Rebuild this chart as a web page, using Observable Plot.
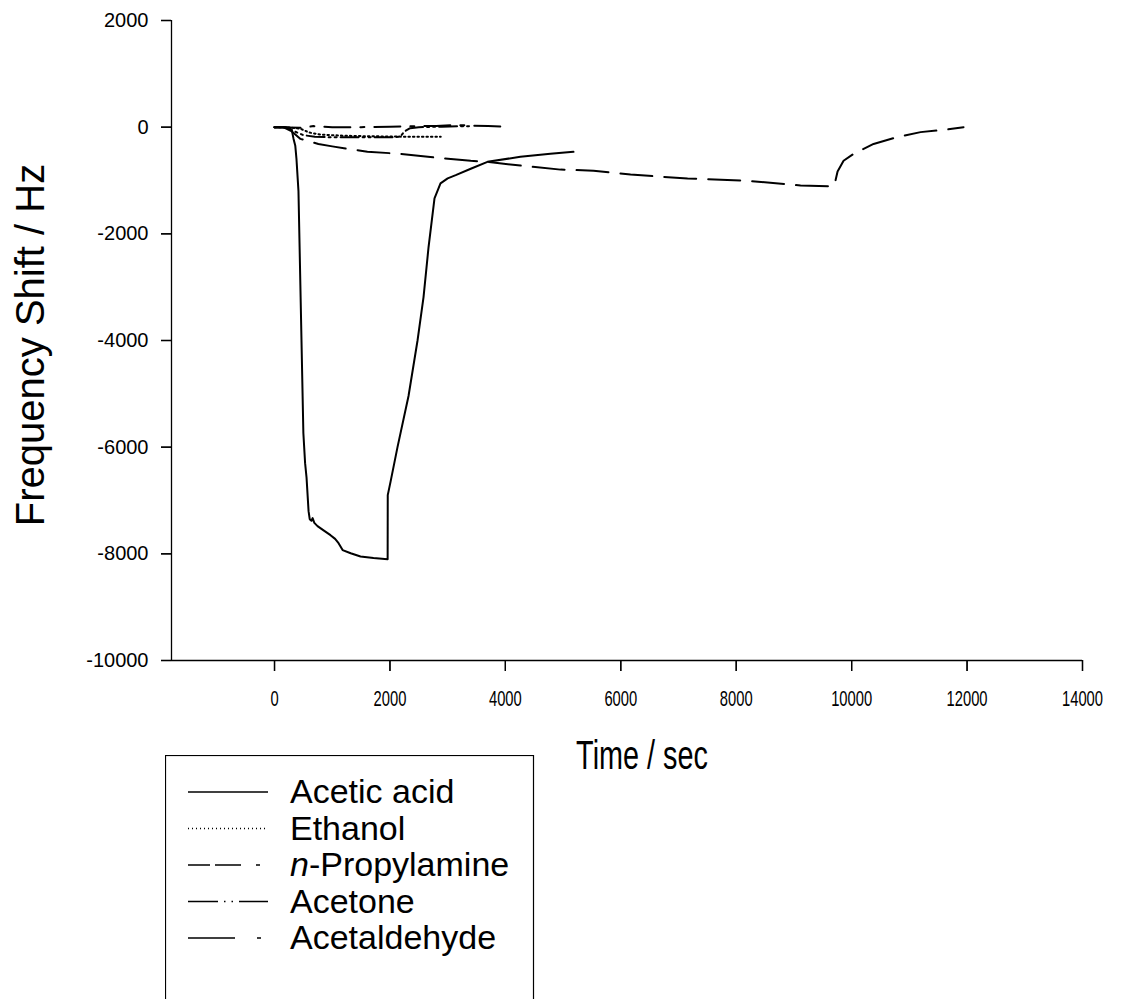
<!DOCTYPE html>
<html><head><meta charset="utf-8">
<script src="https://cdn.jsdelivr.net/npm/d3@7"></script>
<script src="https://cdn.jsdelivr.net/npm/@observablehq/plot@0.6"></script>
<style>
html,body{margin:0;padding:0;background:#fff;overflow:hidden;}
#wrap{position:relative;width:1123px;height:999px;font-family:"Liberation Sans",Arial,sans-serif;color:#000;}
#chart{position:absolute;left:0;top:0;}
.ytitle{position:absolute;left:30px;top:345px;transform:translate(-50%,-50%) rotate(-90deg);font-size:40px;white-space:nowrap;line-height:1;}
.xtitle{position:absolute;left:642px;top:755px;transform:translate(-50%,-50%) scale(0.72,1);font-size:40px;white-space:nowrap;line-height:1;}
#legend{position:absolute;left:165px;top:755px;}
</style></head><body>
<div id="wrap">
  <div id="chart"></div>
  <div class="ytitle">Frequency Shift / Hz</div>
  <div class="xtitle">Time / sec</div>
  <svg id="legend" width="370" height="270"></svg>
</div>
<script>
// ---- axis domains and tick values ----
const xDomain = [-1785, 14000];
const yDomain = [-10000, 2000];
const xTicks = [0, 2000, 4000, 6000, 8000, 10000, 12000, 14000];
const yTicks = [-10000, -8000, -6000, -4000, -2000, 0, 2000];

// ---- series: Acetic acid ----
const aceticTime  = [0, 150, 250, 300, 330, 360, 380, 415, 500, 530, 555, 590, 610, 640, 660, 690, 745, 850, 970, 1050, 1110, 1180, 1320, 1490, 1715, 1960, 1962, 2010, 2131, 2322, 2478, 2582, 2668, 2772, 2876, 3000, 3140, 3400, 3690, 4260, 4780, 5180];
const aceticShift = [0, 0, -10, -60, -220, -350, -590, -1200, -5740, -6300, -6570, -7200, -7350, -7380, -7330, -7420, -7480, -7560, -7650, -7720, -7800, -7930, -7990, -8050, -8080, -8100, -6900, -6650, -6000, -5040, -4000, -3185, -2260, -1333, -1055, -960, -900, -780, -650, -555, -500, -463];

// ---- series: Ethanol ----
const ethanolTime  = [0, 200, 450, 600, 800, 1200, 1600, 2000, 2400, 2880];
const ethanolShift = [0, 0, -30, -100, -140, -160, -170, -175, -180, -180];

// ---- series: n-Propylamine ----
const propTime  = [0, 150, 300, 450, 760, 1000, 1230, 1610, 2180, 2700, 3400, 3690, 4260, 4956, 5528, 6169, 7157, 8127, 9115, 9669, 9700, 9756, 9860, 10033, 10380, 10795, 11194, 11600, 11939];
const propShift = [0, 0, -80, -220, -315, -360, -400, -460, -500, -560, -630, -650, -720, -796, -815, -889, -963, -1000, -1093, -1111, -1090, -833, -630, -500, -315, -185, -93, -50, 0];

// ---- series: Acetone ----
const acetoneTime  = [0, 200, 350, 500, 700, 1000, 1500, 2000, 2180, 2250, 2350, 2500, 2900, 3400];
const acetoneShift = [0, 0, -80, -150, -180, -190, -190, -190, -180, -80, -20, 0, 10, 20];

// ---- series: Acetaldehyde ----
const acetaldTime  = [0, 500, 675, 1000, 1500, 2000, 2500, 2800, 3100, 3400, 3700, 3950];
const acetaldShift = [0, -10, 20, 0, 0, 10, 20, 20, 40, 30, 20, 10];

const seriesNames = ["Acetic acid", "Ethanol", "n-Propylamine", "Acetone", "Acetaldehyde"];
const seriesDash  = [null, "1.5,3", "32,12", "18,4,2,4,2,4", "26,10,4,10"];
const legendDash  = [null, "1,3", "22,5,26,15,4,40", "30,6,1.5,6,1.5,6,30", "47,22,4,100"];

const seriesData = [
  [aceticTime, aceticShift],
  [ethanolTime, ethanolShift],
  [propTime, propShift],
  [acetoneTime, acetoneShift],
  [acetaldTime, acetaldShift]
];

const rows = seriesData.map(([ts, fs], k) => ts.map((t, i) => ({series: seriesNames[k], t, f: fs[i]})));

const plot = Plot.plot({
  width: 1123, height: 780,
  marginLeft: 171, marginRight: 41, marginTop: 20, marginBottom: 120,
  x: {domain: xDomain},
  y: {domain: yDomain},
  style: {fontFamily: "Liberation Sans, Arial, sans-serif", background: "white", color: "black", overflow: "visible"},
  marks: [
    // axis lines
    Plot.ruleX([xDomain[0]], {stroke: "black", strokeWidth: 1.3}),
    Plot.ruleY([yDomain[0]], {stroke: "black", strokeWidth: 1.3}),
    // outward tick marks
    Plot.ruleX(xTicks, {y1: yDomain[0], y2: yDomain[0], insetBottom: -11, stroke: "black", strokeWidth: 1.3}),
    Plot.ruleY(yTicks, {x1: xDomain[0], x2: xDomain[0], insetLeft: -10, stroke: "black", strokeWidth: 1.3}),
    Plot.axisX({ticks: xTicks, tickSize: 11, tickPadding: 19, label: null, fontSize: 22, tickFormat: d => String(d), stroke: "black", strokeWidth: 1.3}),
    Plot.axisY({ticks: yTicks, tickSize: 10, tickPadding: 13, label: null, fontSize: 20, tickFormat: d => String(d), stroke: "black", strokeWidth: 1.3}),
    ...rows.map((r, k) => Plot.line(r, {x: "t", y: "f", stroke: "black", strokeWidth: 2, strokeDasharray: seriesDash[k]}))
  ]
});
document.getElementById("chart").appendChild(plot);

// condense the x tick labels horizontally, like the original export
let xt = plot.querySelectorAll('[aria-label="x-axis tick label"] text');
if (!xt.length) xt = plot.querySelectorAll('[aria-label="x-axis"] text');
xt.forEach(t => {
  const w = t.getComputedTextLength();
  t.setAttribute("textLength", (w * 0.67).toFixed(1));
  t.setAttribute("lengthAdjust", "spacingAndGlyphs");
});

// ---- legend ----
const lg = d3.select("#legend");
lg.append("rect").attr("x", 0.5).attr("y", 0.5).attr("width", 368).attr("height", 300)
  .attr("fill", "white").attr("stroke", "black").attr("stroke-width", 1.2);
seriesNames.forEach((name, i) => {
  const base = 48 + i * 36.5;
  lg.append("line").attr("x1", 23).attr("x2", 103).attr("y1", base - 11).attr("y2", base - 11)
    .attr("stroke", "black").attr("stroke-width", 1.6).attr("stroke-dasharray", legendDash[i]);
  const t = lg.append("text").attr("x", 125).attr("y", base).attr("font-size", 34)
    .attr("font-family", "Liberation Sans, Arial, sans-serif").attr("fill", "black");
  if (name.startsWith("n-")) {
    t.append("tspan").attr("font-style", "italic").text("n");
    t.append("tspan").text(name.slice(1));
  } else t.text(name);
});
</script>
</body></html>
